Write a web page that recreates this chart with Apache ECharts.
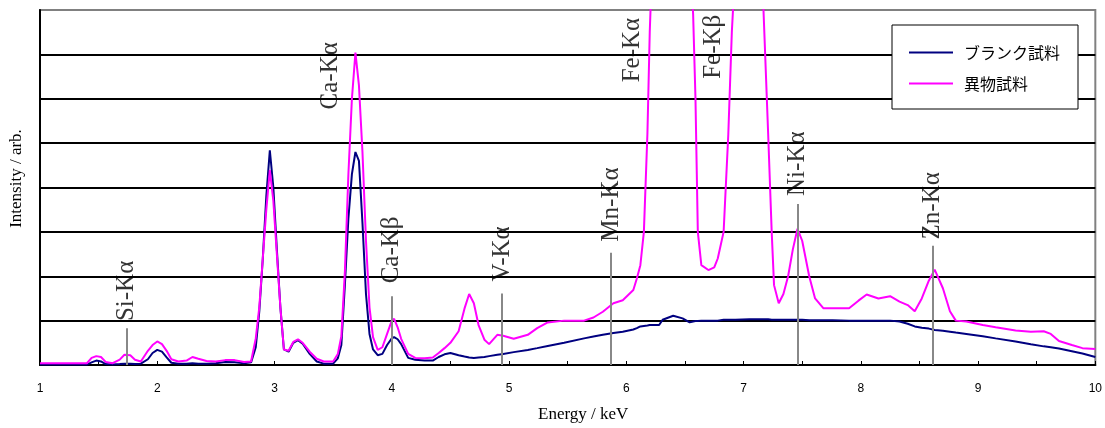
<!DOCTYPE html>
<html><head><meta charset="utf-8">
<script src="https://cdn.jsdelivr.net/npm/echarts@6/dist/echarts.min.js"></script>
<style>html,body{margin:0;padding:0;background:#fff}#c{width:1105px;height:428px}</style>
</head><body><div id="c"></div>
<script>
// Energy (keV)
const energy = [1.00,1.40,1.44,1.48,1.52,1.56,1.62,1.68,1.72,1.77,1.81,1.86,1.92,1.96,2.00,2.04,2.08,2.12,2.18,2.25,2.30,2.35,2.42,2.50,2.58,2.66,2.74,2.80,2.84,2.87,2.90,2.93,2.96,2.99,3.02,3.05,3.08,3.12,3.16,3.20,3.24,3.30,3.36,3.42,3.50,3.54,3.57,3.60,3.63,3.66,3.69,3.72,3.75,3.78,3.81,3.84,3.88,3.92,3.96,4.00,4.02,4.05,4.08,4.14,4.20,4.28,4.35,4.40,4.45,4.50,4.57,4.62,4.66,4.70,4.74,4.79,4.83,4.90,4.95,5.04,5.16,5.24,5.33,5.47,5.64,5.72,5.80,5.89,5.97,6.06,6.09,6.12,6.15,6.18,6.20,6.22,6.28,6.31,6.40,6.48,6.54,6.57,6.59,6.61,6.64,6.70,6.75,6.78,6.83,6.87,6.90,6.93,7.05,7.15,7.17,7.21,7.24,7.26,7.30,7.34,7.38,7.42,7.46,7.50,7.56,7.61,7.68,7.76,7.90,7.98,8.05,8.15,8.25,8.33,8.40,8.46,8.52,8.58,8.63,8.70,8.76,8.81,8.90,9.04,9.15,9.32,9.45,9.56,9.62,9.69,9.80,9.89,10.00];
// ブランク試料 (blank sample)
const blank = [0.01,0.01,0.06,0.10,0.08,0.02,0.01,0.02,0.03,0.03,0.02,0.03,0.13,0.27,0.34,0.30,0.17,0.05,0.03,0.03,0.04,0.03,0.03,0.04,0.07,0.06,0.04,0.06,0.40,1.20,2.40,3.80,4.84,4.00,2.60,1.30,0.35,0.30,0.50,0.56,0.48,0.25,0.08,0.03,0.03,0.15,0.45,1.80,3.30,4.30,4.80,4.60,3.20,1.60,0.70,0.35,0.22,0.25,0.45,0.60,0.63,0.58,0.47,0.16,0.12,0.10,0.10,0.18,0.24,0.27,0.22,0.19,0.17,0.16,0.17,0.18,0.20,0.23,0.25,0.29,0.34,0.38,0.43,0.50,0.60,0.64,0.68,0.72,0.75,0.80,0.83,0.87,0.88,0.89,0.90,0.90,0.90,1.02,1.11,1.05,0.96,0.98,0.99,0.99,1.00,1.00,1.00,1.00,1.02,1.02,1.02,1.02,1.03,1.03,1.03,1.03,1.02,1.02,1.02,1.02,1.02,1.02,1.02,1.02,1.01,1.01,1.01,1.01,1.00,1.00,1.00,1.00,1.00,0.98,0.93,0.87,0.84,0.82,0.79,0.77,0.75,0.73,0.70,0.65,0.60,0.53,0.47,0.42,0.40,0.37,0.31,0.26,0.18];
// 異物試料 (foreign-matter sample)
const sample = [0.04,0.04,0.16,0.20,0.18,0.07,0.04,0.12,0.23,0.22,0.12,0.08,0.32,0.45,0.53,0.47,0.32,0.13,0.08,0.10,0.18,0.14,0.09,0.08,0.11,0.11,0.07,0.08,0.60,1.30,2.40,3.50,4.39,3.70,2.50,1.30,0.35,0.32,0.52,0.58,0.50,0.30,0.14,0.08,0.08,0.25,0.65,2.10,4.30,6.00,7.04,6.30,4.80,2.80,1.30,0.63,0.34,0.40,0.70,1.00,1.04,0.85,0.59,0.25,0.16,0.15,0.17,0.27,0.38,0.50,0.76,1.27,1.60,1.39,0.90,0.57,0.47,0.68,0.66,0.59,0.68,0.83,0.96,1.00,1.00,1.07,1.20,1.39,1.46,1.69,1.95,2.25,3.00,5.20,7.50,9.00,13.0,14.0,15.0,13.0,9.50,7.90,6.00,3.00,2.25,2.14,2.20,2.40,3.00,5.20,7.50,9.00,14.0,9.00,8.00,5.20,3.00,1.80,1.39,1.60,2.00,2.60,3.07,2.80,2.00,1.50,1.28,1.28,1.28,1.45,1.59,1.50,1.55,1.43,1.35,1.21,1.50,1.90,2.15,1.73,1.21,1.00,0.98,0.90,0.85,0.78,0.75,0.76,0.70,0.54,0.45,0.38,0.36];
const seriesNames = ['ブランク試料','異物試料'];
const xTicks = [1,2,3,4,5,6,7,8,9,10];
// peak annotations
const peakNames  = ['Si-Kα','Ca-Kα','Ca-Kβ','V-Kα','Mn-Kα','Fe-Kα','Fe-Kβ','Ni-Kα','Zn-Kα'];
const peakEnergy = [1.74,3.48,4.00,4.94,5.87,6.05,6.74,7.46,8.61];
const markerTop  = [0.83,null,1.55,1.61,2.53,null,null,3.63,2.69];
const labelBase  = [0.99,5.76,1.84,1.88,2.78,6.37,6.45,3.81,2.83];

const toPairs = (xs, ys) => xs.map((x, i) => [x, ys[i]]);
const markerData = [];
peakEnergy.forEach((e, i) => {
  if (markerTop[i] != null) markerData.push([{coord: [e, 0]}, {coord: [e, markerTop[i]]}]);
});
const labelData = peakNames.map((n, i) => ({name: n, value: [peakEnergy[i], labelBase[i]]}));

const chart = echarts.init(document.getElementById('c'));
chart.setOption({
  animation: false,
  grid: {left: 38, right: 8, top: 10, bottom: 61, show: true, borderColor: '#808080', borderWidth: 2},
  legend: {
    data: seriesNames, orient: 'vertical', left: 892, top: 25,
    padding: [18, 18, 16, 17], itemGap: 12, itemWidth: 44, itemHeight: 2, icon: 'rect',
    backgroundColor: '#fff', borderColor: '#000', borderWidth: 1, borderRadius: 0,
    textStyle: {fontFamily: 'Noto Sans CJK JP', fontSize: 16, color: '#000', lineHeight: 19, padding: [0, 0, 0, 6]}
  },
  xAxis: {
    type: 'value', min: xTicks[0], max: xTicks[xTicks.length - 1], interval: 1,
    axisLine: {lineStyle: {color: '#000', width: 2}},
    axisTick: {inside: true, length: 4, lineStyle: {color: '#000', width: 1}},
    minorTick: {show: true, splitNumber: 2, length: 4, lineStyle: {color: '#000', width: 1}},
    splitLine: {show: false},
    axisLabel: {color: '#000', fontSize: 12, margin: 18, fontFamily: 'Liberation Sans'},
    name: 'Energy / keV', nameLocation: 'middle', nameGap: 41,
    nameTextStyle: {fontFamily: 'Liberation Serif', fontSize: 17, color: '#000', padding: [0, 0, 0, 31]}
  },
  yAxis: {
    type: 'value', min: 0, max: 8, interval: 1,
    axisLine: {show: true, lineStyle: {color: '#000', width: 2}},
    axisTick: {show: false}, axisLabel: {show: false},
    splitLine: {show: true, lineStyle: {color: ['#000','#000','#000','#000','#000','#000','#000','#000','#808080'], width: 2}},
    name: 'Intensity / arb.', nameLocation: 'middle', nameGap: 15,
    nameTextStyle: {fontFamily: 'Liberation Serif', fontSize: 17, color: '#000', padding: [0, 0, 0, 18]}
  },
  series: [
    {name: seriesNames[0], type: 'line', data: toPairs(energy, blank), symbol: 'none', clip: true,
     lineStyle: {color: '#000080', width: 2}, itemStyle: {color: '#000080'}},
    {name: seriesNames[1], type: 'line', data: toPairs(energy, sample), symbol: 'none', clip: true,
     lineStyle: {color: '#ff00ff', width: 2}, itemStyle: {color: '#ff00ff'}},
    {name: 'peaks', type: 'scatter', data: labelData, symbolSize: 0, silent: true,
     label: {show: true, formatter: p => p.name, position: [0, 0], rotate: 90, align: 'left', verticalAlign: 'middle',
             fontFamily: 'Liberation Serif', fontSize: 25, color: '#000'},
     markLine: {silent: true, symbol: 'none', label: {show: false},
                lineStyle: {color: '#888', width: 2, type: 'solid'}, data: markerData}}
  ]
});
</script></body></html>
